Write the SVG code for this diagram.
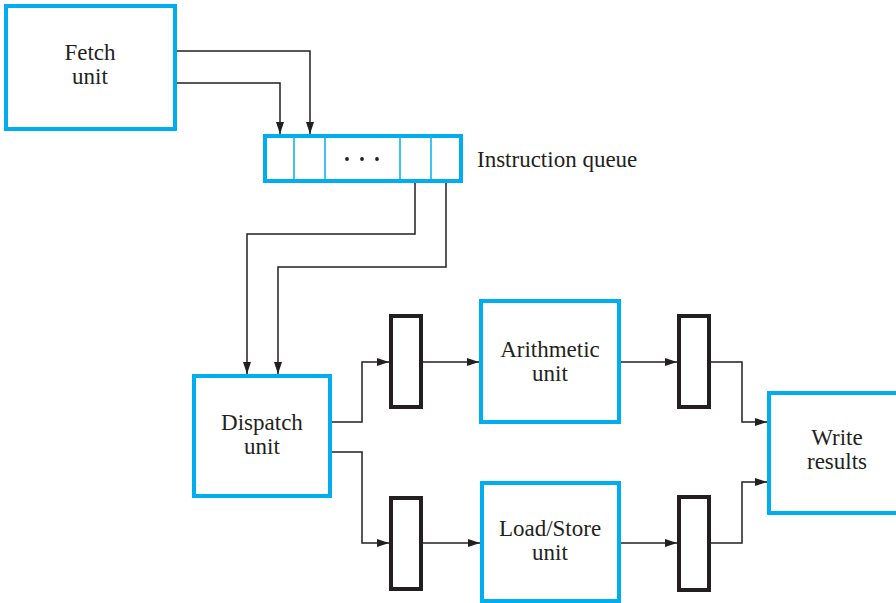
<svg xmlns="http://www.w3.org/2000/svg" width="896" height="603" viewBox="0 0 896 603">
<style>
.box{fill:#fff;stroke:#00aeef;stroke-width:4}
.div{stroke:#00aeef;stroke-width:1.5}
.reg{fill:#fff;stroke:#231f20;stroke-width:4}
.wire{fill:none;stroke:#231f20;stroke-width:1.5;marker-end:url(#ah)}
text{font-family:"Liberation Serif","Times New Roman",serif;font-size:23px;fill:#231f20}
.c{text-anchor:middle}
</style>
<defs>
<marker id="ah" markerUnits="userSpaceOnUse" markerWidth="13" markerHeight="9" refX="12" refY="4" orient="auto">
<path d="M0,0 L12,4 L0,8 z" fill="#231f20"/>
</marker>
</defs>
<rect width="896" height="603" fill="#fff"/>
<g id="connectors">
<path class="wire" d="M176,51 H310 V134"/>
<path class="wire" d="M176,83 H280 V134"/>
<path class="wire" d="M415,183 V234 H247 V374"/>
<path class="wire" d="M446,183 V267 H278 V374"/>
<path class="wire" d="M332,422 H362 V362 H389"/>
<path class="wire" d="M332,452 H362 V543 H389"/>
<path class="wire" d="M423,362 H479"/>
<path class="wire" d="M423,543 H480"/>
<path class="wire" d="M621,362 H677"/>
<path class="wire" d="M621,543 H677"/>
<path class="wire" d="M711,362 H742 V422 H767"/>
<path class="wire" d="M711,543 H742 V482 H767"/>
</g>
<g id="fetch">
<rect class="box" x="6" y="6" width="169" height="123"/>
<text class="c" x="90" y="60">Fetch</text>
<text class="c" x="90" y="84">unit</text>
</g>
<g id="queue">
<rect class="box" x="265" y="136" width="196" height="45"/>
<line class="div" x1="294" y1="136" x2="294" y2="181"/>
<line class="div" x1="325" y1="136" x2="325" y2="181"/>
<line class="div" x1="400" y1="136" x2="400" y2="181"/>
<line class="div" x1="431" y1="136" x2="431" y2="181"/>
<circle cx="347" cy="159" r="1.9" fill="#231f20"/>
<circle cx="362" cy="159" r="1.9" fill="#231f20"/>
<circle cx="377" cy="159" r="1.9" fill="#231f20"/>
<text x="477" y="167">Instruction queue</text>
</g>
<g id="dispatch">
<rect class="box" x="194" y="376" width="136" height="120"/>
<text class="c" x="262" y="430">Dispatch</text>
<text class="c" x="262" y="454">unit</text>
</g>
<g id="reg1"><rect class="reg" x="391" y="316" width="30" height="91"/></g>
<g id="reg2"><rect class="reg" x="391" y="498" width="30" height="91"/></g>
<g id="arith">
<rect class="box" x="481" y="301" width="138" height="121"/>
<text class="c" x="550" y="357">Arithmetic</text>
<text class="c" x="550" y="381">unit</text>
</g>
<g id="loadstore">
<rect class="box" x="482" y="483" width="137" height="118"/>
<text class="c" x="550" y="536">Load/Store</text>
<text class="c" x="550" y="560">unit</text>
</g>
<g id="reg3"><rect class="reg" x="679" y="316" width="30" height="91"/></g>
<g id="reg4"><rect class="reg" x="679" y="497" width="30" height="93"/></g>
<g id="write">
<rect class="box" x="769" y="393" width="130" height="120"/>
<text class="c" x="837" y="445">Write</text>
<text class="c" x="837" y="469">results</text>
</g>
</svg>
